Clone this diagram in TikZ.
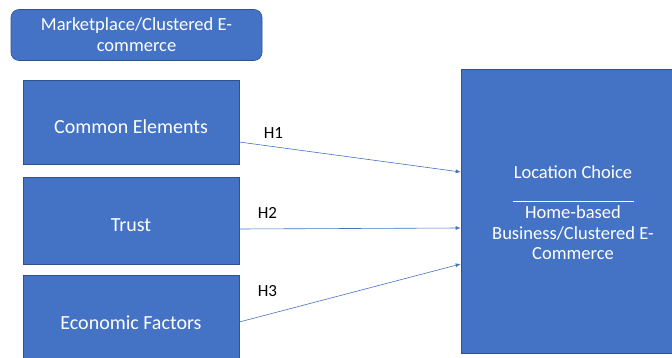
\documentclass[tikz,border=0pt]{standalone}
\usepackage{fontspec}
\setmainfont{Carlito}
\usepackage{xcolor}
\usepackage{tikz}
\usetikzlibrary{arrows.meta,calc}
\definecolor{boxblue}{HTML}{4472C4}
\definecolor{boxedge}{HTML}{2F528F}

\begin{document}
\begin{tikzpicture}[
  x=1pt,y=-1pt,
  factor/.style={draw=boxedge,fill=boxblue,line width=0.6pt,text=white,minimum width=216pt,align=center,text height=23pt,text depth=0pt,font=\fontsize{20}{24}\selectfont},
  titlebox/.style={draw=boxedge,fill=boxblue,rounded corners=8pt,line width=0.6pt,text=white,minimum width=251pt,minimum height=51pt,align=center,font=\fontsize{18.5}{21}\selectfont},
  outcome/.style={draw=boxedge,fill=boxblue,line width=0.6pt,text=white,minimum width=224pt,minimum height=284pt,align=center,font=\fontsize{18.5}{20.3}\selectfont},
  link/.style={-{Latex[length=5pt,width=4pt]},line width=0.6pt,draw=boxblue},
  hlabel/.style={font=\fontsize{17}{20}\selectfont}
]
  \useasboundingbox (0,0) rectangle (672,358);
  \clip (0,0) rectangle (672,358);

  \node[titlebox] (market) at (136.5,35) {Marketplace/Clustered E-\\commerce};
  \node[factor,minimum height=84pt] (common) at (131,122) {Common Elements};
  \node[factor,minimum height=87pt] (trust) at (131,220.5) {Trust};
  \node[factor,minimum height=86pt] (econ) at (131,318) {Economic Factors};
  \node[outcome] (loc) at (573,211) {\rule{0pt}{16pt}Location Choice\\\rule[-3pt]{121pt}{0.9pt}\\Home-based\\Business/Clustered E-\\Commerce};

  \draw[link] ($(common.east)+(0,20)$) -- node[pos=0.154,above=4pt,hlabel]{H1} ($(loc.west)+(0,-39)$);
  \draw[link] ($(trust.east)+(0,8.5)$) -- node[pos=0.127,above=7pt,hlabel]{H2} ($(loc.west)+(0,17)$);
  \draw[link] ($(econ.east)+(0,4)$) -- node[pos=0.127,above=14pt,hlabel]{H3} ($(loc.west)+(0,53)$);
\end{tikzpicture}
\end{document}
